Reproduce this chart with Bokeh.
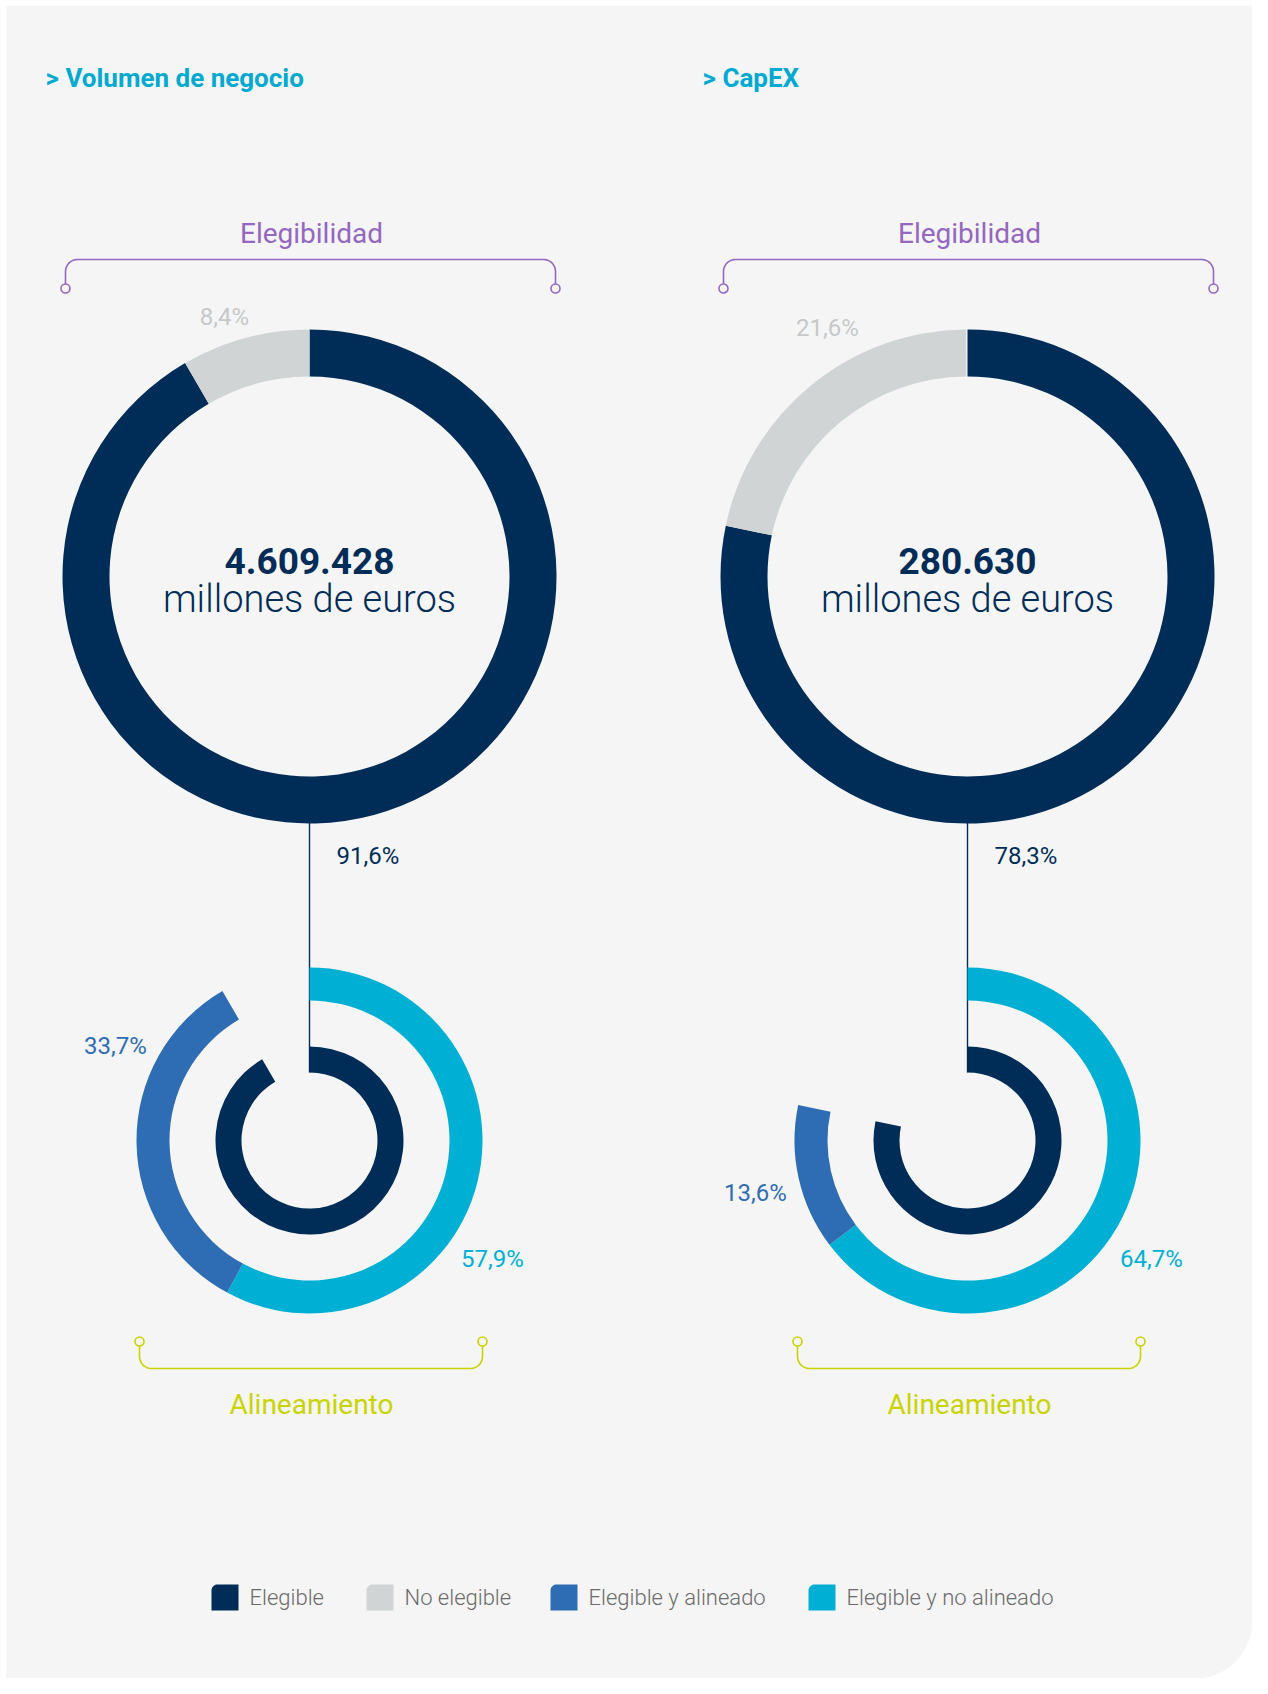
import numpy as np
from bokeh.plotting import figure
from bokeh.models import Range1d
from bokeh.core.properties import value
from bokeh.embed import file_html
from bokeh.resources import INLINE

# ---------------- data ----------------
sections = ["Volumen de negocio", "CapEX"]
totals = ["4.609.428", "280.630"]
total_unit = "millones de euros"
elegible = [91.6, 78.3]
no_elegible = [8.4, 21.6]
alineado = [33.7, 13.6]
no_alineado = [57.9, 64.7]
legend_labels = ["Elegible", "No elegible", "Elegible y alineado", "Elegible y no alineado"]
top_label = "Elegibilidad"
bottom_label = "Alineamiento"

# ---------------- style ----------------
NAVY = "#002c58"
GRAY = "#d1d4d5"
BLUE = "#2e6db3"
CYAN = "#00b0d4"
TITLE_C = "#00a9cf"
PURPLE = "#9467c0"
LIME = "#c8d400"
BG = "#f5f5f5"
PCT_GRAY = "#c6c8c9"
LEG_TXT = "#6b6b6b"
FONT = value("Roboto")
LIGHT = value("Roboto Light")

# ---------------- layout (pixels) ----------------
W, H = 1252, 1678
centers_x = [309, 967]
top_cy, top_r = 576, (200, 247)
bot_cy = 1140
inner_r = (68, 94)
outer_r = (140, 173)
title_x = [45, 702]
title_y = 77
no_eleg_lbl = [(-85, -260), (-140, -249)]
alin_lbl = [(-194, -95), (-212, 52)]
noalin_lbl = [(183, 118), (184, 118)]
legend_x = [211, 366, 550, 808]
legend_y = 1597

p = figure(width=W, height=H, x_range=Range1d(0, W), y_range=Range1d(-H, 0),
           output_backend="svg", toolbar_location=None, min_border=0)
p.axis.visible = False
p.grid.visible = False
p.outline_line_color = None
p.background_fill_color = BG
p.border_fill_color = BG


def Y(py):
    return -np.asarray(py, dtype=float)


def fmt(v):
    return f"{v:.1f}".replace(".", ",") + "%"


def ang(f):
    # fraction clockwise from 12 o'clock -> bokeh angle (ccw from +x)
    return np.pi / 2 - 2 * np.pi * f


def ring(cx, cy, r, segs, colors):
    f0 = 0.0
    for v, c in zip(segs, colors):
        f1 = f0 + v / 100.0
        p.annular_wedge(x=[cx], y=[-cy], inner_radius=r[0], outer_radius=r[1],
                        start_angle=ang(f1), end_angle=ang(f0), direction="anticlock",
                        fill_color=c, line_color=None)
        f0 = f1


def bracket(x0, x1, yl, ye, r, color):
    s = 1 if ye > yl else -1
    cy = yl + s * r
    t1 = np.linspace(np.pi, np.pi + s * np.pi / 2, 12)
    t2 = np.linspace(np.pi + s * np.pi / 2, np.pi + s * np.pi, 12)
    xs = [x0] + list(x0 + r + r * np.cos(t1)) + list(x1 - r + r * np.cos(t2)) + [x1]
    ys = [ye] + list(cy + r * np.sin(t1)) + list(cy + r * np.sin(t2)) + [ye]
    p.line(xs, Y(ys), line_color=color, line_width=1.6)
    p.scatter([x0, x1], Y([ye, ye]), size=9, fill_color=BG, line_color=color, line_width=1.6)


# white page strips (panel starts slightly inside the page)
p.quad(left=[-10, -10], right=[6, W + 10], top=[10, 10], bottom=[-H - 10, -5],
       fill_color="white", line_color=None)

# rounded bottom-right corner of the panel
rc = 58
t = np.linspace(0, np.pi / 2, 30)
cxr, cyr = W - rc, H - rc
xs = list(cxr + rc * np.cos(t)) + [W + 20, W + 20]
ys = list(cyr + rc * np.sin(t)) + [H + 20, cyr]
p.patch(xs, Y(ys), fill_color="white", line_color=None)

for i, cx in enumerate(centers_x):
    # title
    p.text(x=[title_x[i]], y=Y([title_y]), text=["> " + sections[i]], text_font=FONT,
           text_font_style="bold", text_font_size="26px", text_color=TITLE_C,
           text_align="left", text_baseline="middle")

    # Elegibilidad bracket
    p.text(x=[cx + 2], y=Y([233]), text=[top_label], text_font=FONT, text_font_size="28px",
           text_color=PURPLE, text_align="center", text_baseline="middle")
    bracket(cx - 244, cx + 246, 259, 288, 12, PURPLE)

    # connector
    p.segment(x0=[cx], y0=Y([top_cy + top_r[1] - 2]), x1=[cx], y1=Y([bot_cy - inner_r[0]]),
              line_color=NAVY, line_width=1.4)

    # top donut
    ring(cx, top_cy, top_r, [elegible[i], no_elegible[i]], [NAVY, GRAY])
    p.text(x=[cx], y=Y([560]), text=[totals[i]], text_font=FONT, text_font_style="bold",
           text_font_size="37px", text_color=NAVY, text_align="center", text_baseline="middle")
    p.text(x=[cx], y=Y([598]), text=[total_unit], text_font=LIGHT,
           text_font_size="38px", text_color=NAVY, text_align="center", text_baseline="middle")
    dx, dy = no_eleg_lbl[i]
    p.text(x=[cx + dx], y=Y([top_cy + dy]), text=[fmt(no_elegible[i])], text_font=FONT,
           text_font_size="24px", text_color=PCT_GRAY, text_align="center", text_baseline="middle")

    # bottom rings
    ring(cx, bot_cy, outer_r, [no_alineado[i], alineado[i]], [CYAN, BLUE])
    ring(cx, bot_cy, inner_r, [elegible[i]], [NAVY])

    p.text(x=[cx + 27], y=Y([855]), text=[fmt(elegible[i])], text_font=FONT,
           text_font_size="24px", text_color=NAVY, text_align="left", text_baseline="middle")
    dx, dy = alin_lbl[i]
    p.text(x=[cx + dx], y=Y([bot_cy + dy]), text=[fmt(alineado[i])], text_font=FONT,
           text_font_size="24px", text_color=BLUE, text_align="center", text_baseline="middle")
    dx, dy = noalin_lbl[i]
    p.text(x=[cx + dx], y=Y([bot_cy + dy]), text=[fmt(no_alineado[i])], text_font=FONT,
           text_font_size="24px", text_color=CYAN, text_align="center", text_baseline="middle")

    # Alineamiento bracket
    bracket(cx - 170, cx + 173, 1368, 1341, 12, LIME)
    p.text(x=[cx + 2], y=Y([1404]), text=[bottom_label], text_font=FONT, text_font_size="28px",
           text_color=LIME, text_align="center", text_baseline="middle")

# legend
leg_colors = [NAVY, GRAY, BLUE, CYAN]
sw, sh, sr = 27, 26, 6
for lx, lab, col in zip(legend_x, legend_labels, leg_colors):
    top = legend_y - sh / 2
    tt = np.linspace(np.pi, 1.5 * np.pi, 10)
    px = [lx, lx] + list(lx + sr + sr * np.cos(tt)) + [lx + sw, lx + sw]
    py = [top + sh, top + sr] + list(top + sr + sr * np.sin(tt)) + [top, top + sh]
    p.patch(px, Y(py), fill_color=col, line_color=None)
    p.text(x=[lx + sw + 11], y=Y([legend_y]), text=[lab], text_font=LIGHT,
           text_font_size="22px", text_color=LEG_TXT, text_align="left", text_baseline="middle")

open("out.html", "w").write(file_html(p, INLINE))
